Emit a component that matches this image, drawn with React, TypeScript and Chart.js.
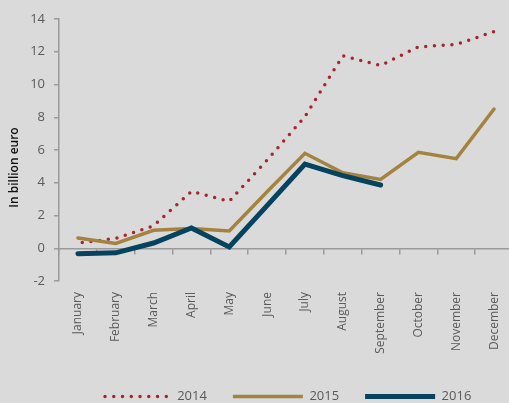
import React, { useEffect, useRef } from 'react';
import { Chart, registerables } from 'chart.js';

Chart.register(...registerables);

const months = ['January', 'February', 'March', 'April', 'May', 'June', 'July', 'August', 'September', 'October', 'November', 'December'];
const seriesNames = ['2014', '2015', '2016'];
const values2014 = [0.32, 0.6, 1.37, 3.47, 2.87, 5.38, 8.04, 11.75, 11.16, 12.3, 12.44, 13.24];
const values2015 = [0.63, 0.29, 1.1, 1.2, 1.06, 3.45, 5.8, 4.61, 4.2, 5.86, 5.47, 8.5];
const values2016 = [-0.33, -0.28, 0.32, 1.24, 0.08, 2.6, 5.14, 4.43, 3.86];
const yMin = -2;
const yMax = 14;
const yStep = 2;
const yTitle = 'In billion euro';

const RED = '#a5262f';
const GOLD = '#a4823f';
const NAVY = '#05435e';
const AXIS = '#9a9a9a';
const TEXT = '#5a5a5a';
const FONT = '"Open Sans", "Noto Sans", sans-serif';

export default function App() {
  const ref = useRef<HTMLCanvasElement>(null);

  useEffect(() => {
    document.documentElement.style.background = '#dadada';
    document.body.style.margin = '0';
    document.body.style.overflow = 'hidden';
    document.body.style.background = '#dadada';

    const titlePlugin = {
      id: 'yTitleText',
      afterDraw(chart: any) {
        const ctx = chart.ctx;
        ctx.save();
        ctx.translate(15, 167.5);
        ctx.rotate(-Math.PI / 2);
        ctx.font = '600 12px ' + FONT;
        ctx.fillStyle = '#111';
        ctx.textAlign = 'center';
        ctx.textBaseline = 'middle';
        ctx.fillText(yTitle, 0, 0);
        ctx.restore();
      },
    };

    const chart = new Chart(ref.current as HTMLCanvasElement, {
      type: 'line',
      data: {
        labels: months,
        datasets: [
          {
            label: seriesNames[0],
            data: values2014,
            borderColor: RED,
            backgroundColor: 'transparent',
            borderWidth: 3.5,
            borderDash: [0, 8.75],
            borderDashOffset: 4.375,
            borderCapStyle: 'round',
            pointRadius: 0,
            tension: 0,
            order: 3,
          },
          {
            label: seriesNames[1],
            data: values2015,
            borderColor: GOLD,
            backgroundColor: 'transparent',
            borderWidth: 3.5,
            borderCapStyle: 'round',
            pointRadius: 0,
            tension: 0,
            order: 2,
          },
          {
            label: seriesNames[2],
            data: values2016,
            borderColor: NAVY,
            backgroundColor: 'transparent',
            borderWidth: 5,
            borderCapStyle: 'round',
            pointRadius: 0,
            tension: 0,
            order: 1,
          },
        ],
      },
      options: {
        responsive: false,
        maintainAspectRatio: false,
        animation: false,
        devicePixelRatio: 1,
        layout: { padding: { top: 19, right: 1, left: 0, bottom: 0 } },
        plugins: {
          tooltip: { enabled: false },
          legend: {
            position: 'bottom',
            fullSize: false,
            labels: {
              color: TEXT,
              font: { size: 13, family: FONT },
              boxWidth: 70,
              boxHeight: 0,
              padding: 26,
              sort: (a: any, b: any) => a.datasetIndex - b.datasetIndex,
            },
          },
        },
        scales: {
          x: {
            type: 'category',
            offset: true,
            grid: { display: false, drawTicks: false },
            border: { display: false },
            ticks: {
              autoSkip: false,
              minRotation: 90,
              maxRotation: 90,
              padding: 11,
              color: TEXT,
              font: { size: 12, family: FONT },
            },
            afterFit(scale: any) {
              scale.height = 83;
              scale.paddingLeft = 0;
              scale.paddingRight = 0;
            },
          },
          x2: {
            type: 'category',
            position: { y: 0 },
            offset: true,
            grid: {
              offset: true,
              drawOnChartArea: false,
              drawTicks: true,
              tickLength: 5,
              color: AXIS,
              lineWidth: 1.5,
            },
            border: { display: true, color: AXIS, width: 1.5 },
            ticks: { display: false },
          },
          y: {
            min: yMin,
            max: yMax,
            ticks: {
              stepSize: yStep,
              padding: 9,
              color: TEXT,
              font: { size: 13, family: FONT },
            },
            grid: {
              drawOnChartArea: false,
              drawTicks: true,
              tickLength: 5,
              color: AXIS,
              lineWidth: 1.5,
            },
            border: { display: true, color: AXIS, width: 1.5 },
            afterFit(scale: any) {
              scale.width = 59;
            },
          },
        },
      } as any,
      plugins: [titlePlugin],
    });

    return () => chart.destroy();
  }, []);

  return (
    <div style={{ position: 'absolute', left: 0, top: 0, width: 514, height: 413 }}>
      <canvas ref={ref} width={514} height={413} style={{ width: 514, height: 413, display: 'block' }} />
    </div>
  );
}
